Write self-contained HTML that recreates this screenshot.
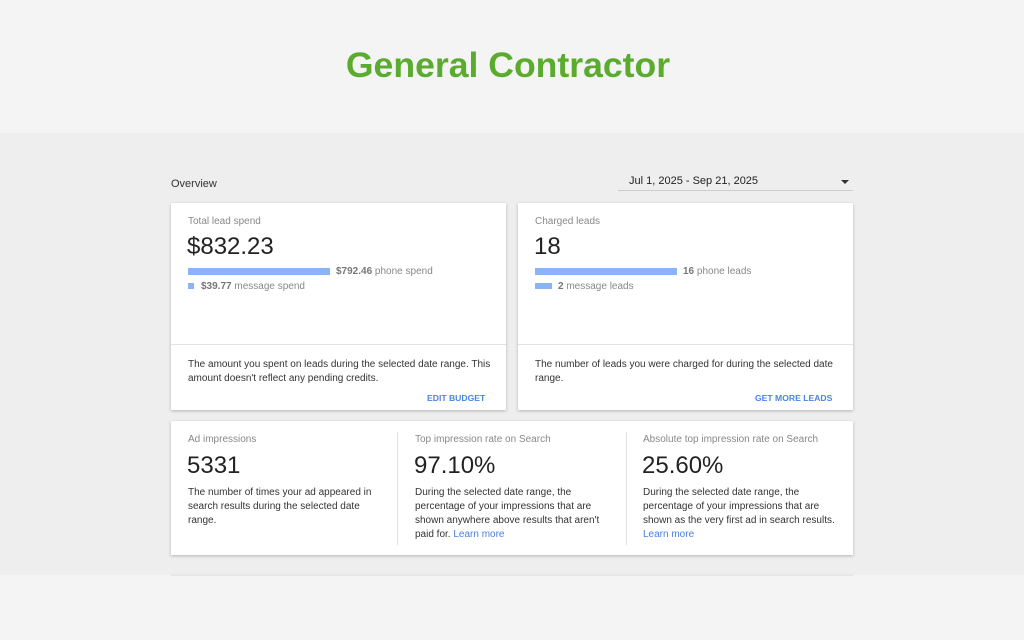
<!DOCTYPE html><html><head><style>
*{margin:0;padding:0;box-sizing:border-box}
body{width:1024px;height:640px;position:relative;background:#f4f4f4;font-family:"Liberation Sans",sans-serif;overflow:hidden;color:#222}
.a{position:absolute;white-space:nowrap}
.band{position:absolute;left:0;top:133px;width:1024px;height:442px;background:#eeeeee}
.card{position:absolute;background:#fff;box-shadow:0 1px 3px rgba(0,0,0,.25)}
.lbl{font-size:10px;color:#888}
.big{font-size:24px;color:#222}
.sm{font-size:10px;color:#333;line-height:14px}
.g{color:#888}
.lnk{color:#4a7fe0}
.btn{font-size:8.6px;color:#4a84e8;font-weight:bold}
.bar{position:absolute;background:#8ab4f8}
</style></head><body>
<div class="band"></div>
<div class="a" style="left:0;width:1016px;text-align:center;top:45px;font-size:35.6px;font-weight:bold;color:#5aab2e">General Contractor</div>
<div class="a" style="left:171px;top:178px;font-size:11px;color:#333">Overview</div>
<div class="a" style="left:629px;top:175px;font-size:11px;color:#222">Jul 1, 2025 - Sep 21, 2025</div>
<div class="a" style="left:841px;top:180px;width:0;height:0;border-left:4px solid transparent;border-right:4px solid transparent;border-top:4px solid #333"></div>
<div class="a" style="left:618px;top:190px;width:235px;height:1px;background:#ccc"></div>

<div class="card" style="left:171px;top:203px;width:335px;height:207px">
<div class="a" style="left:0;top:141px;width:335px;height:1px;background:#e2e2e2"></div>
</div>
<div class="a lbl" style="left:188px;top:216px">Total lead spend</div>
<div class="a big" style="left:187px;top:233px">$832.23</div>
<div class="bar" style="left:188px;top:268px;width:142px;height:7px"></div>
<div class="a sm g" style="left:336px;top:265px"><b style="color:#777">$792.46</b> phone spend</div>
<div class="bar" style="left:188px;top:283px;width:6px;height:6px"></div>
<div class="a sm g" style="left:201px;top:280px"><b style="color:#777">$39.77</b> message spend</div>
<div class="a sm" style="left:188px;top:358px">The amount you spent on leads during the selected date range. This<br>amount doesn't reflect any pending credits.</div>
<div class="a btn" style="left:427px;top:393px">EDIT BUDGET</div>

<div class="card" style="left:518px;top:203px;width:335px;height:207px">
<div class="a" style="left:0;top:141px;width:335px;height:1px;background:#e2e2e2"></div>
</div>
<div class="a lbl" style="left:535px;top:216px">Charged leads</div>
<div class="a big" style="left:534px;top:233px">18</div>
<div class="bar" style="left:535px;top:268px;width:142px;height:7px"></div>
<div class="a sm g" style="left:683px;top:265px"><b style="color:#777">16</b> phone leads</div>
<div class="bar" style="left:535px;top:283px;width:17px;height:6px"></div>
<div class="a sm g" style="left:558px;top:280px"><b style="color:#777">2</b> message leads</div>
<div class="a sm" style="left:535px;top:358px">The number of leads you were charged for during the selected date<br>range.</div>
<div class="a btn" style="left:755px;top:393px">GET MORE LEADS</div>

<div class="card" style="left:171px;top:421px;width:682px;height:134px"></div>
<div class="a" style="left:397px;top:432px;width:1px;height:113px;background:#e2e2e2"></div>
<div class="a" style="left:626px;top:432px;width:1px;height:113px;background:#e2e2e2"></div>
<div class="a lbl" style="left:188px;top:434px">Ad impressions</div>
<div class="a big" style="left:187px;top:452px">5331</div>
<div class="a sm" style="left:188px;top:486px">The number of times your ad appeared in<br>search results during the selected date<br>range.</div>
<div class="a lbl" style="left:415px;top:434px">Top impression rate on Search</div>
<div class="a big" style="left:414px;top:452px">97.10%</div>
<div class="a sm" style="left:415px;top:486px">During the selected date range, the<br>percentage of your impressions that are<br>shown anywhere above results that aren't<br>paid for. <span class="lnk">Learn more</span></div>
<div class="a lbl" style="left:643px;top:434px">Absolute top impression rate on Search</div>
<div class="a big" style="left:642px;top:452px">25.60%</div>
<div class="a sm" style="left:643px;top:486px">During the selected date range, the<br>percentage of your impressions that are<br>shown as the very first ad in search results.<br><span class="lnk">Learn more</span></div>
<div class="a" style="left:171px;top:574px;width:682px;height:2px;background:#e6e6e6"></div>
</body></html>
